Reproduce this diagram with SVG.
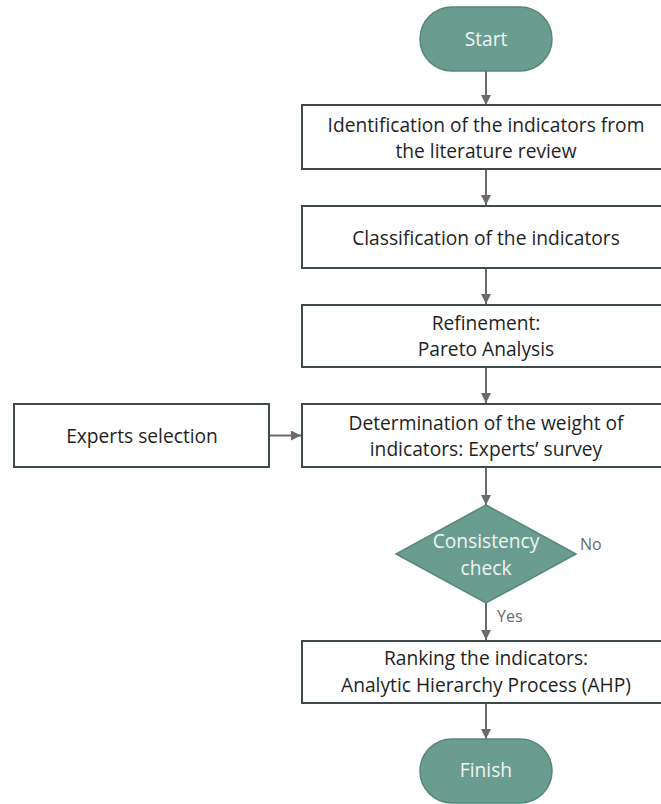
<svg xmlns="http://www.w3.org/2000/svg" width="661" height="804" viewBox="0 0 661 804">
<style>
.box{fill:#ffffff;stroke:#3f4a4f;stroke-width:2}
.term{fill:#6a9d8f;stroke:#56887a;stroke-width:1.5}
.t{font-family:"Open Sans","Noto Sans",sans-serif;font-size:19.2px;fill:#1f1f1f;text-anchor:middle}
.tw{font-family:"Open Sans","Noto Sans",sans-serif;font-size:19.2px;fill:#eef5f2;text-anchor:middle}
.lbl{font-family:"Open Sans","Noto Sans",sans-serif;font-size:16px;fill:#6a6a6a}
.c{stroke:#6b6b6b;stroke-width:2;fill:none;marker-end:url(#ah)}
</style>
<defs>
<marker id="ah" viewBox="0 0 10 10" refX="10" refY="5" markerWidth="10" markerHeight="10" markerUnits="userSpaceOnUse" orient="auto">
<path d="M0,0 L10,5 L0,10 Z" fill="#6b6b6b"/>
</marker>
</defs>
<rect width="661" height="804" fill="#ffffff"/>
<g id="connectors">
<line class="c" x1="486" y1="71" x2="486" y2="105"/>
<line class="c" x1="486" y1="169" x2="486" y2="205"/>
<line class="c" x1="486" y1="268" x2="486" y2="304"/>
<line class="c" x1="486" y1="367" x2="486" y2="403"/>
<line class="c" x1="269" y1="435.5" x2="301" y2="435.5"/>
<line class="c" x1="486" y1="467" x2="486" y2="505"/>
<line class="c" x1="486" y1="603" x2="486" y2="640"/>
<line class="c" x1="486" y1="703" x2="486" y2="739"/>
<text class="lbl" x="580" y="550">No</text>
<text class="lbl" x="497" y="622">Yes</text>
</g>
<g id="start">
<rect class="term" x="420" y="7" width="132" height="64" rx="32" ry="32"/>
<text class="tw" x="486" y="46">Start</text>
</g>
<g id="identification">
<rect class="box" x="302" y="105" width="370" height="64"/>
<text class="t" x="486" y="132">Identification of the indicators from</text>
<text class="t" x="486" y="158">the literature review</text>
</g>
<g id="classification">
<rect class="box" x="302" y="206" width="370" height="62"/>
<text class="t" x="486" y="245">Classification of the indicators</text>
</g>
<g id="refinement">
<rect class="box" x="302" y="305" width="370" height="62"/>
<text class="t" x="486" y="330">Refinement:</text>
<text class="t" x="486" y="356">Pareto Analysis</text>
</g>
<g id="experts">
<rect class="box" x="14" y="404" width="255" height="63"/>
<text class="t" x="142" y="443">Experts selection</text>
</g>
<g id="determination">
<rect class="box" x="302" y="404" width="370" height="63"/>
<text class="t" x="486" y="430">Determination of the weight of</text>
<text class="t" x="486" y="456">indicators: Experts’ survey</text>
</g>
<g id="consistency">
<polygon class="term" points="486,505 576,554 486,603 396,554"/>
<text class="tw" x="486" y="548">Consistency</text>
<text class="tw" x="486" y="575">check</text>
</g>
<g id="ranking">
<rect class="box" x="302" y="641" width="370" height="62"/>
<text class="t" x="486" y="665">Ranking the indicators:</text>
<text class="t" x="486" y="692">Analytic Hierarchy Process (AHP)</text>
</g>
<g id="finish">
<rect class="term" x="420" y="739" width="132" height="64" rx="32" ry="32"/>
<text class="tw" x="486" y="777">Finish</text>
</g>
</svg>
